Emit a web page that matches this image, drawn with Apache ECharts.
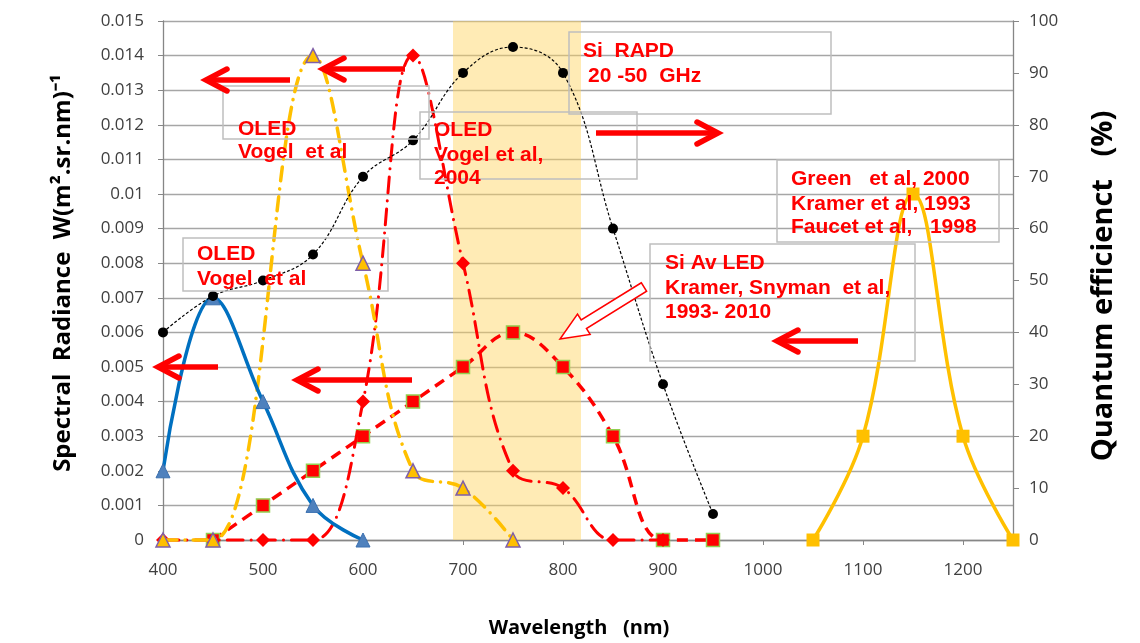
<!DOCTYPE html>
<html>
<head>
<meta charset="utf-8">
<script src="https://cdn.jsdelivr.net/npm/echarts@6/dist/echarts.min.js"></script>
<style>html,body{margin:0;padding:0;background:#fff}#c{width:1140px;height:643px}</style>
</head>
<body>
<div id="c"></div>
<script>
// ---------- data ----------
const xTicks = [400, 500, 600, 700, 800, 900, 1000, 1100, 1200];
const leftTicks = [0, 0.001, 0.002, 0.003, 0.004, 0.005, 0.006, 0.007, 0.008, 0.009, 0.01, 0.011, 0.012, 0.013, 0.014, 0.015];
const rightTicks = [0, 10, 20, 30, 40, 50, 60, 70, 80, 90, 100];

// OLED (blue, left axis)
const blueWl = [400, 450, 500, 550, 600];
const blueVal = [0.002, 0.007, 0.004, 0.001, 0];

// OLED Vogel et al (gold dash-dot, left axis)
const goldTriWl = [400, 450, 550, 600, 650, 700, 750];
const goldTriVal = [0, 0, 0.014, 0.008, 0.002, 0.0015, 0];

// OLED Vogel et al 2004 (red dash-dot, diamonds, left axis)
const redDiaWl = [400, 450, 500, 550, 600, 650, 700, 750, 800, 850, 900];
const redDiaVal = [0, 0, 0, 0, 0.004, 0.014, 0.008, 0.002, 0.0015, 0, 0];

// Si Av LED (red dashed, squares, left axis)
const avLedWl = [450, 500, 550, 600, 650, 700, 750, 800, 850, 900, 950];
const avLedVal = [0, 0.001, 0.002, 0.003, 0.004, 0.005, 0.006, 0.005, 0.003, 0, 0];

// Si RAPD (black dotted, right axis, %)
const rapdWl = [400, 450, 500, 550, 600, 650, 700, 750, 800, 850, 900, 950];
const rapdVal = [40, 47, 50, 55, 70, 77, 90, 95, 90, 60, 30, 5];

// Green / Kramer / Faucet (gold solid, squares, left axis)
const greenWl = [1050, 1100, 1150, 1200, 1250];
const greenVal = [0, 0.003, 0.01, 0.003, 0];

// shaded band (wavelength range)
const bandRange = [690, 818];

const zip = (a, b) => a.map((x, i) => [x, b[i]]);

const chart = echarts.init(document.getElementById('c'), null, {renderer: 'canvas'});

const axisColor = '#868686';
const labelFont = {fontFamily: 'Open Sans', fontSize: 17, color: '#404040'};

const redDashDot = [16, 8, 0.1, 8];
const goldDashDot = [14, 8, 0.1, 8];

const series = [
  {
    name: 'Si Av LED', type: 'line', data: zip(avLedWl, avLedVal), yAxisIndex: 0,
    smooth: 0.4, symbol: 'rect', symbolSize: 13, clip: false,
    lineStyle: {color: '#FF0000', width: 3.5, type: [11, 7]},
    itemStyle: {color: '#FF0000', borderColor: '#92D050', borderWidth: 1.5},
    markArea: {silent: true, itemStyle: {color: 'rgba(255,210,90,0.45)'},
      data: [[{xAxis: bandRange[0]}, {xAxis: bandRange[1]}]]},
    z: 2
  },
  {
    name: 'OLED Vogel 2004', type: 'line', data: zip(redDiaWl, redDiaVal), yAxisIndex: 0,
    smooth: 0.4, symbol: 'diamond', symbolSize: 14, clip: false,
    lineStyle: {color: '#FF0000', width: 3, type: redDashDot, cap: 'round'},
    itemStyle: {color: '#FF0000'}, z: 3
  },
  {
    name: 'OLED Vogel gold', type: 'line', data: zip(goldTriWl, goldTriVal), yAxisIndex: 0,
    smooth: 0.4, symbol: 'triangle', symbolSize: 14, clip: false,
    lineStyle: {color: '#FFC000', width: 3.5, type: goldDashDot, cap: 'round'},
    itemStyle: {color: '#FFC000', borderColor: '#7F5FA8', borderWidth: 1.5}, z: 4
  },
  {
    name: 'OLED blue', type: 'line', data: zip(blueWl, blueVal), yAxisIndex: 0,
    smooth: 0.4, symbol: 'triangle', symbolSize: 14, clip: false,
    lineStyle: {color: '#0070C0', width: 3.5},
    itemStyle: {color: '#4F81BD', borderColor: '#3A6FB0', borderWidth: 1}, z: 5
  },
  {
    name: 'Si RAPD', type: 'line', data: zip(rapdWl, rapdVal), yAxisIndex: 1,
    smooth: 0.4, symbol: 'circle', symbolSize: 10, clip: false,
    lineStyle: {color: '#000000', width: 1.2, type: [3, 2]},
    itemStyle: {color: '#000000'}, z: 6
  },
  {
    name: 'Green', type: 'line', data: zip(greenWl, greenVal), yAxisIndex: 0,
    smooth: 0.4, symbol: 'rect', symbolSize: 13, clip: false,
    lineStyle: {color: '#FFC000', width: 3.5},
    itemStyle: {color: '#FFC000'}, z: 7
  }
];

// ---------- annotations (decoration) ----------
const annFont = 'bold 21px "Liberation Sans", Arial, sans-serif';
const boxes = [
  [223, 86, 206, 53], [183, 238, 205, 53], [420, 112, 217, 67],
  [569, 32, 262, 82], [777, 160, 222, 82], [650, 244, 265, 117]
];
const texts = [
  ['OLED', 238, 129], ['Vogel  et al', 238, 152],
  ['OLED', 197, 254], ['Vogel  et al', 197, 279],
  ['OLED', 434, 130], ['Vogel et al,', 434, 155], ['2004', 434, 178],
  ['Si  RAPD', 583, 51], ['20 -50  GHz', 588, 76],
  ['Green   et al, 2000', 791, 179], ['Kramer et al, 1993', 791, 204], ['Faucet et al,   1998', 791, 227],
  ['Si Av LED', 665, 263], ['Kramer, Snyman  et al,', 665, 288], ['1993- 2010', 665, 312]
];
// [x from, x to (tip), y]
const arrows = [
  [290, 206, 80], [405, 323, 69], [596, 718, 133],
  [858, 777, 341], [218, 158, 367], [412, 297, 380]
];

const graphics = [];
boxes.forEach(b => graphics.push({
  type: 'rect', shape: {x: b[0], y: b[1], width: b[2], height: b[3]},
  style: {fill: 'none', stroke: '#BFBFBF', lineWidth: 1.5}, z: 50, silent: true
}));
arrows.forEach(a => {
  const dir = a[1] > a[0] ? 1 : -1;
  graphics.push({type: 'polyline', shape: {points: [[a[0], a[2]], [a[1] - dir * 2, a[2]]]},
    style: {stroke: '#FF0000', lineWidth: 5.5, fill: null}, z: 60, silent: true});
  graphics.push({type: 'polyline', shape: {points: [[a[1] - dir * 21, a[2] - 11], [a[1], a[2]], [a[1] - dir * 21, a[2] + 11]]},
    style: {stroke: '#FF0000', lineWidth: 5.5, fill: null, lineJoin: 'miter', lineCap: 'round'}, z: 60, silent: true});
});
// hollow block arrow
(function () {
  const tail = [644, 287], tip = [560, 339];
  const dx = tip[0] - tail[0], dy = tip[1] - tail[1];
  const L = Math.hypot(dx, dy), ux = dx / L, uy = dy / L, nx = -uy, ny = ux;
  const sw = 5, hw = 12, hl = 28;
  const nk = [tip[0] - ux * hl, tip[1] - uy * hl];
  const pts = [
    [tail[0] + nx * sw, tail[1] + ny * sw],
    [nk[0] + nx * sw, nk[1] + ny * sw],
    [nk[0] + nx * hw, nk[1] + ny * hw],
    tip,
    [nk[0] - nx * hw, nk[1] - ny * hw],
    [nk[0] - nx * sw, nk[1] - ny * sw],
    [tail[0] - nx * sw, tail[1] - ny * sw]
  ];
  graphics.push({type: 'polygon', shape: {points: pts},
    style: {fill: '#FFFFFF', stroke: '#FF0000', lineWidth: 1.5}, z: 60, silent: true});
})();
texts.forEach(t => graphics.push({
  type: 'text', x: t[1], y: t[2], z: 70, silent: true,
  style: {text: t[0], font: annFont, fill: '#FF0000', align: 'left', verticalAlign: 'middle'}
}));
// axis titles
graphics.push({type: 'text', x: 63, y: 273, rotation: Math.PI / 2, z: 70, silent: true,
  style: {text: 'Spectral  Radiance  W(m\u00B2.sr.nm)\u207B\u00B9', font: 'bold 24px "Open Sans", sans-serif', fill: '#000', align: 'center', verticalAlign: 'middle'}});
graphics.push({type: 'text', x: 1104, y: 286, rotation: Math.PI / 2, z: 70, silent: true,
  style: {text: 'Quantum efficienct   (%)', font: 'bold 29px "Open Sans", sans-serif', fill: '#000', align: 'center', verticalAlign: 'middle'}});
graphics.push({type: 'text', x: 579, y: 628, z: 70, silent: true,
  style: {text: 'Wavelength   (nm)', font: 'bold 20px "Open Sans", sans-serif', fill: '#000', align: 'center', verticalAlign: 'middle'}});

chart.setOption({
  animation: false,
  backgroundColor: '#fff',
  grid: {left: 163, right: 127, top: 21, bottom: 103, containLabel: false},
  xAxis: {
    type: 'value', min: xTicks[0], max: 1250, interval: xTicks[1] - xTicks[0],
    axisLine: {show: true, onZero: false, lineStyle: {color: axisColor, width: 1.3}},
    axisTick: {show: true, length: 5, lineStyle: {color: axisColor}},
    axisLabel: {...labelFont, margin: 22, showMaxLabel: false,
      formatter: v => xTicks.includes(v) ? String(v) : ''},
    splitLine: {show: false}
  },
  yAxis: [
    {
      type: 'value', min: leftTicks[0], max: leftTicks[leftTicks.length - 1], interval: 0.001,
      axisLine: {show: true, lineStyle: {color: axisColor, width: 1.3}},
      axisTick: {show: true, length: 5, lineStyle: {color: axisColor}},
      axisLabel: {...labelFont, margin: 19, formatter: v => String(+v.toFixed(3))},
      splitLine: {show: true, lineStyle: {color: '#A6A6A6', width: 1.3}}
    },
    {
      type: 'value', min: rightTicks[0], max: rightTicks[rightTicks.length - 1], interval: 10,
      position: 'right',
      axisLine: {show: true, lineStyle: {color: axisColor, width: 1.3}},
      axisTick: {show: true, length: 6, lineStyle: {color: axisColor}},
      axisLabel: {...labelFont, margin: 16, formatter: v => String(v)},
      splitLine: {show: false}
    }
  ],
  series: series,
  graphic: graphics
});
</script>
</body>
</html>
